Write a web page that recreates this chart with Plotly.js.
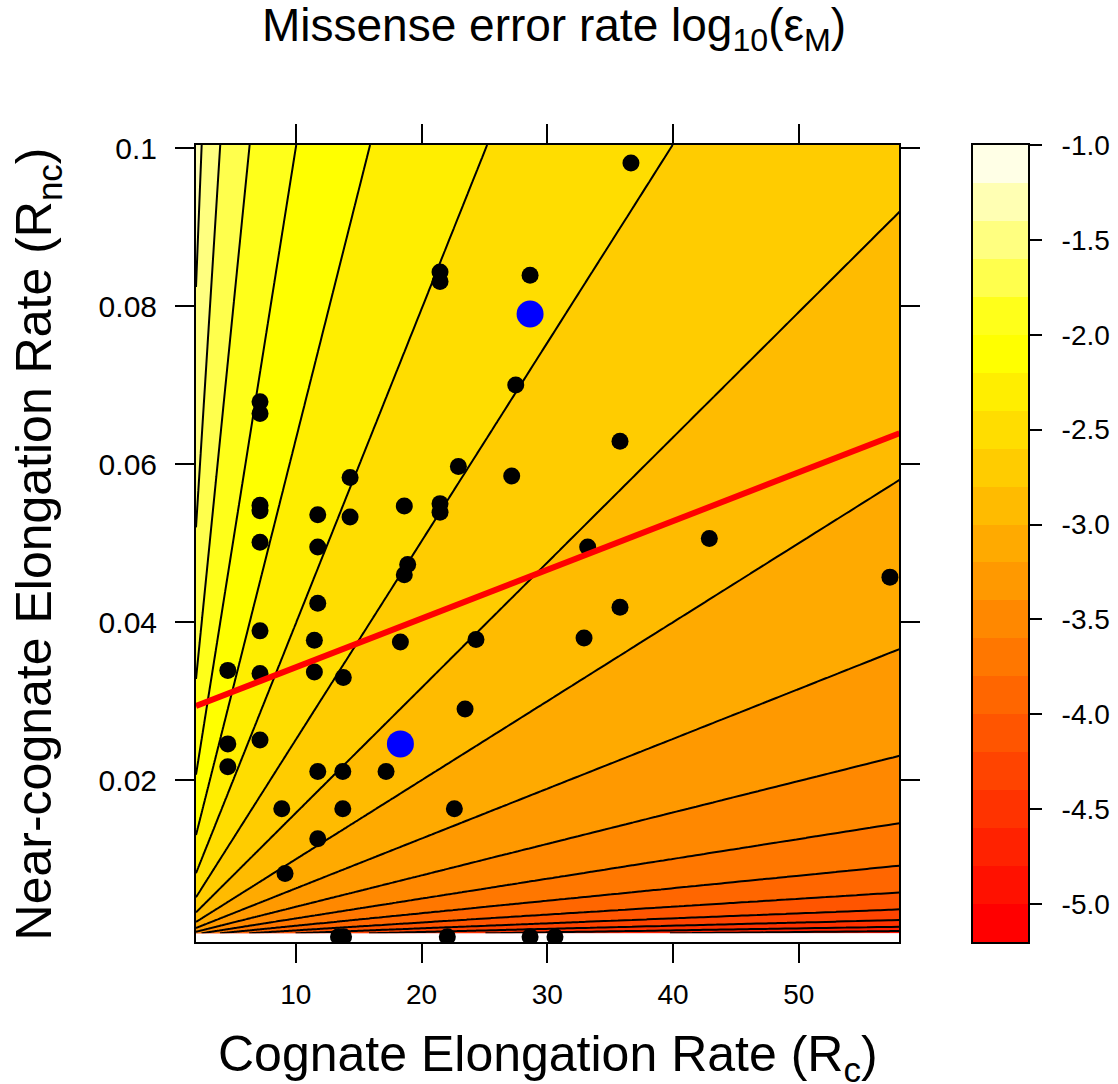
<!DOCTYPE html>
<html><head><meta charset="utf-8">
<script src="https://cdn.plot.ly/plotly-3.0.1.min.js"></script>
<style>html,body{margin:0;padding:0;background:#fff}</style>
</head><body>
<div id="chart" style="width:1118px;height:1084px"></div>
<script>
// ---- data ----
const cognateRate = [36.65, 21.47, 21.47, 28.63, 27.49, 7.16, 7.16, 14.32, 22.93, 27.17,
  7.16, 7.16, 11.75, 14.32, 18.63, 21.47, 21.47, 7.16, 11.75, 18.9,
  18.63, 11.75, 7.16, 11.48, 18.32, 24.33, 4.6, 7.16, 11.48, 13.78,
  35.78, 33.21, 42.88, 57.24, 35.78, 32.92, 23.46, 4.6, 7.16, 4.6,
  11.75, 13.74, 17.18, 8.89, 13.74, 22.61, 11.75, 9.15, 13.4, 13.8,
  22.05, 28.63, 30.61];
const nearCognateRate = [0.0981, 0.0843, 0.0831, 0.0839, 0.0700, 0.0679, 0.0664, 0.0583, 0.0597, 0.0585,
  0.0548, 0.0541, 0.0536, 0.0533, 0.0547, 0.0550, 0.0539, 0.0501, 0.0495, 0.0473,
  0.0460, 0.0424, 0.0389, 0.0377, 0.0375, 0.0378, 0.0339, 0.0335, 0.0337, 0.0330,
  0.0629, 0.0495, 0.0506, 0.0457, 0.0419, 0.0380, 0.0290, 0.0246, 0.0251, 0.0217,
  0.0211, 0.0211, 0.0211, 0.0164, 0.0164, 0.0164, 0.0126, 0.0082, 0.0002, 0.0002,
  0.0002, 0.0002, 0.0002];
const highlightCognate = [28.63, 18.32];
const highlightNearCognate = [0.0790, 0.0246];
const fitCognate = [2.07, 58.0];
const fitNearCognate = [0.0294, 0.0639];

// contour levels of log10(eps_M), eps_M = Rnc / Rc
const levelStart = -5.2, levelEnd = -1.0, levelStep = 0.2;
const bandColors = ['#FF0000','#FF1100','#FF2200','#FF3300','#FF4400','#FF5500','#FF6600',
  '#FF7700','#FF8800','#FF9900','#FFAA00','#FFBB00','#FFCC00','#FFDD00','#FFEE00','#FFFF00',
  '#FFFF1A','#FFFF4D','#FFFF80','#FFFFB3','#FFFFE6'];
const surfaceRcRange = [2.07, 58.0];
const surfaceRncRange = [0.00063, 0.10038];

const xTickVals = [10, 20, 30, 40, 50];
const xTickText = ['10', '20', '30', '40', '50'];
const yTickVals = [0.02, 0.04, 0.06, 0.08, 0.1];
const yTickText = ['0.02', '0.04', '0.06', '0.08', '0.1'];
const cbTickVals = [-5.0, -4.5, -4.0, -3.5, -3.0, -2.5, -2.0, -1.5, -1.0];
const cbTickText = ['-5.0', '-4.5', '-4.0', '-3.5', '-3.0', '-2.5', '-2.0', '-1.5', '-1.0'];

// ---- surface grid (log10 of the ratio, evaluated on a geometric grid) ----
function geom(a, b, n) { const r = Math.pow(b / a, 1 / (n - 1)); const out = []; for (let i = 0; i < n; i++) out.push(a * Math.pow(r, i)); out[n - 1] = b; return out; }
const gx = geom(surfaceRcRange[0], surfaceRcRange[1], 220);
const gy = geom(surfaceRncRange[0], surfaceRncRange[1], 320);
const gz = gy.map(yv => gx.map(xv => Math.log10(yv / xv)));

const nBands = bandColors.length;
const colorscale = bandColors.map((c, i) => [i / (nBands - 1), c]);
const bandCenters = bandColors.map((c, i) => levelStart + levelStep * (i + 0.5));

const font = 'Liberation Sans, Arial, Helvetica, sans-serif';

const traces = [
  {
    type: 'contour', x: gx, y: gy, z: gz, xaxis: 'x', yaxis: 'y',
    colorscale: colorscale, showscale: false, hoverinfo: 'skip',
    contours: { coloring: 'fill', showlines: true, start: levelStart + levelStep, end: levelEnd - levelStep, size: levelStep },
    line: { color: '#000', width: 2, smoothing: 0 }
  },
  {
    type: 'scatter', mode: 'markers', x: cognateRate, y: nearCognateRate,
    marker: { color: '#000', size: 17, line: { width: 0 } }, hoverinfo: 'skip'
  },
  {
    type: 'scatter', mode: 'lines', x: fitCognate, y: fitNearCognate,
    line: { color: '#FF0000', width: 6 }, hoverinfo: 'skip'
  },
  {
    type: 'scatter', mode: 'markers', x: highlightCognate, y: highlightNearCognate,
    marker: { color: '#0000FF', size: 27, line: { width: 0 } }, hoverinfo: 'skip'
  },
  {
    type: 'heatmap', xaxis: 'x2', yaxis: 'y2', x: [0], y: bandCenters,
    z: bandCenters.map(v => [v]), zmin: bandCenters[0], zmax: bandCenters[nBands - 1],
    colorscale: colorscale, showscale: false, hoverinfo: 'skip', zsmooth: false
  }
];

const axisCommon = {
  showgrid: false, zeroline: false, showline: true, linecolor: '#000', linewidth: 2,
  ticks: 'outside', ticklen: 19, tickwidth: 2, tickcolor: '#000',
  tickfont: { family: font, size: 28, color: '#000' }
};

const layout = {
  width: 1118, height: 1084,
  margin: { l: 196, r: 90, t: 145, b: 142 },
  paper_bgcolor: '#fff', plot_bgcolor: '#fff',
  showlegend: false,
  xaxis: Object.assign({}, axisCommon, {
    domain: [0, 0.84555], range: surfaceRcRange, tickvals: xTickVals, ticktext: xTickText,
    mirror: 'ticks', ticklabelstandoff: 7
  }),
  yaxis: Object.assign({}, axisCommon, {
    domain: [0, 1], range: [-0.00047, 0.10038], tickvals: yTickVals, ticktext: yTickText,
    mirror: 'ticks', ticklabelstandoff: 12, tickfont: { family: font, size: 30, color: '#000' }
  }),
  xaxis2: {
    domain: [0.93389, 1], anchor: 'y2', range: [-0.5, 0.5], showgrid: false, zeroline: false,
    showticklabels: false, ticks: '', showline: true, mirror: true, linecolor: '#000', linewidth: 2
  },
  yaxis2: Object.assign({}, axisCommon, {
    domain: [0, 1], anchor: 'x2', side: 'right', range: [levelStart, levelEnd],
    tickvals: cbTickVals, ticktext: cbTickText, ticklen: 12, mirror: true, ticklabelstandoff: 14
  }),
  annotations: [
    { text: 'Missense error rate log<sub>10</sub>(ε<sub>M</sub>)', xref: 'paper', yref: 'paper',
      x: 0.4297, y: 1.146, xanchor: 'center', yanchor: 'middle', showarrow: false,
      font: { family: font, size: 46, color: '#000' } },
    { text: 'Cognate Elongation Rate (R<sub>c</sub>)', xref: 'paper', yref: 'paper',
      x: 0.4228, y: -0.1455, xanchor: 'center', yanchor: 'middle', showarrow: false,
      font: { family: font, size: 50, color: '#000' } },
    { text: 'Near-cognate Elongation Rate (R<sub>nc</sub>)', xref: 'paper', yref: 'paper',
      x: -0.19, y: 0.5, xanchor: 'center', yanchor: 'middle', showarrow: false, textangle: -90,
      font: { family: font, size: 50, color: '#000' } }
  ]
};

Plotly.newPlot('chart', traces, layout, { staticPlot: true, displayModeBar: false });
</script>
</body></html>
